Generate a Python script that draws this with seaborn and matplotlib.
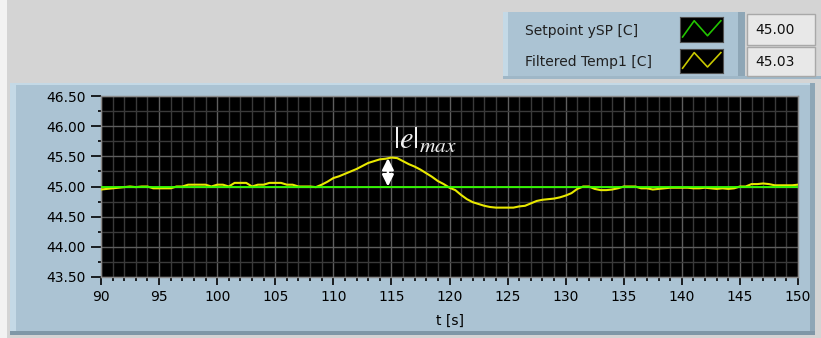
import numpy as np
import pandas as pd
import matplotlib
matplotlib.use("Agg")
import matplotlib.pyplot as plt
from matplotlib.patches import Rectangle
import seaborn as sns

# ---------------- data ----------------
t_start, t_step = 90.0, 0.5
temp1 = [
    44.95, 44.96, 44.97, 44.98, 44.99, 45.00, 44.99, 45.00, 45.00, 44.97,
    44.97, 44.97, 44.97, 45.00, 45.00, 45.03, 45.03, 45.03, 45.03, 45.00,
    45.03, 45.03, 45.00, 45.06, 45.06, 45.06, 45.00, 45.03, 45.03, 45.06,
    45.06, 45.06, 45.03, 45.03, 45.00, 45.00, 45.00, 44.99, 45.03, 45.08,
    45.14, 45.17, 45.21, 45.25, 45.29, 45.34, 45.39, 45.42, 45.45, 45.46,
    45.48, 45.47, 45.42, 45.37, 45.33, 45.28, 45.22, 45.16, 45.09, 45.04,
    44.98, 44.94, 44.86, 44.79, 44.74, 44.71, 44.68, 44.66, 44.65, 44.65,
    44.65, 44.65, 44.67, 44.68, 44.72, 44.76, 44.78, 44.79, 44.80, 44.82,
    44.85, 44.89, 44.96, 45.00, 45.00, 44.96, 44.94, 44.94, 44.95, 44.97,
    45.00, 45.00, 45.00, 44.97, 44.97, 44.95, 44.96, 44.97, 44.98, 44.98,
    44.98, 44.98, 44.97, 44.97, 44.98, 44.97, 44.96, 44.97, 44.96, 44.97,
    45.00, 45.00, 45.04, 45.04, 45.05, 45.04, 45.02, 45.02, 45.02, 45.02,
    45.03,
]
setpoint = 45.00
x_ticks = [90, 95, 100, 105, 110, 115, 120, 125, 130, 135, 140, 145, 150]
y_ticks = [43.50, 44.00, 44.50, 45.00, 45.50, 46.00, 46.50]
x_label = "t [s]"
legend_names = ["Setpoint ySP [C]", "Filtered Temp1 [C]"]
legend_values = ["45.00", "45.03"]
annot_text = r"$|e|_{max}$"
peak_t, peak_v = 114.7, 45.47

t = t_start + t_step * np.arange(len(temp1))
df = pd.DataFrame({"t": t, "Filtered Temp1 [C]": temp1,
                   "Setpoint ySP [C]": [setpoint] * len(temp1)})

# ---------------- figure ----------------
W, H = 821, 338
plt.rcParams["font.family"] = ["DejaVu Sans"]
plt.rcParams["mathtext.fontset"] = "stix"
fig = plt.figure(figsize=(W / 100, H / 100), dpi=100)
fig.patch.set_facecolor("#d4d4d4")


def rect(x0, y0, x1, y1, color, z=0, ec="none", lw=0):
    fig.add_artist(Rectangle((x0 / W, 1 - y1 / H), (x1 - x0) / W, (y1 - y0) / H,
                             transform=fig.transFigure, facecolor=color,
                             edgecolor=ec, linewidth=lw, zorder=z))


def ftext(x, y, s, **kw):
    fig.text(x / W, 1 - y / H, s, **kw)


# panel backgrounds
rect(0, 0, 7, 338, "#f2f2f2")
rect(10, 83, 815, 335, "#abc3d3")
rect(10, 83, 16, 335, "#c4d9e6")
rect(10, 83, 815, 85, "#c4d9e6")
rect(810, 83, 815, 335, "#8ea6b6")
rect(10, 331, 815, 335, "#7f97a7")

# legend panel
rect(503, 12, 745, 78, "#abc3d3")
rect(503, 12, 508, 78, "#c4d9e6")
rect(738, 12, 745, 78, "#8ea6b6")
rect(503, 76, 821, 79, "#9fb7c7")

# value boxes
for (y0, y1), val in zip([(14, 45), (47, 76)], legend_values):
    rect(747, y0, 815, y1, "#e8e8e8", ec="#a8a8a8", lw=1)
    ftext(755, (y0 + y1) / 2, val, fontsize=10, va="center", ha="left", color="#101010")

for yc, name in zip([31, 62], legend_names):
    ftext(525, yc, name, fontsize=10, va="center", ha="left", color="#202020")

# legend swatches
sw_colors = ["#22c400", "#c8c800"]
for (y0, y1), c in zip([(17, 42), (49, 73)], sw_colors):
    sax = fig.add_axes([680 / W, 1 - y1 / H, 43 / W, (y1 - y0) / H])
    sax.set_facecolor("black")
    sax.plot([0.06, 0.33, 0.64, 0.95], [0.2, 0.85, 0.25, 0.85], color=c, lw=1.2)
    sax.set_xlim(0, 1)
    sax.set_ylim(0, 1)
    sax.set_xticks([])
    sax.set_yticks([])
    for sp in sax.spines.values():
        sp.set_color("#505050")

# main plot
ax = fig.add_axes([101 / W, 1 - 277 / H, 697 / W, 181 / H])
ax.set_facecolor("black")
sns.lineplot(data=df, x="t", y="Filtered Temp1 [C]", ax=ax, color="#e8e800",
             lw=1.5, legend=False, zorder=3)
sns.lineplot(data=df, x="t", y="Setpoint ySP [C]", ax=ax, color="#33ff00",
             lw=1.3, legend=False, zorder=4)

ax.set_xlim(x_ticks[0], x_ticks[-1])
ax.set_ylim(y_ticks[0], y_ticks[-1])
ax.set_xticks(x_ticks)
ax.set_xticklabels([str(v) for v in x_ticks])
ax.set_xticks(np.arange(x_ticks[0], x_ticks[-1] + 0.5, 1), minor=True)
ax.set_yticks(y_ticks)
ax.set_yticklabels([f"{v:.2f}" for v in y_ticks])
ax.set_yticks(np.arange(y_ticks[0], y_ticks[-1] + 0.1, 0.25), minor=True)

ax.grid(True, which="minor", color="#3a3a3a", lw=1)
ax.grid(True, which="major", color="#5e5e5e", lw=1)
ax.set_axisbelow(True)

ax.tick_params(axis="both", which="major", labelsize=10, colors="black",
               width=1.2)
ax.tick_params(axis="y", which="major", length=7.2, pad=3.6)
ax.tick_params(axis="y", which="minor", length=2.5, width=1.2, color="black")
ax.tick_params(axis="x", which="major", length=6, pad=3.5)
ax.tick_params(axis="x", which="minor", length=3, width=1.2, color="black")
for sp in ax.spines.values():
    sp.set_color("#8a8a8a")
    sp.set_linewidth(1)

ax.set_xlabel(x_label, fontsize=10, labelpad=7, color="black")
ax.set_ylabel("")

# annotation |e|max with double arrow
ax.annotate("", xy=(peak_t, peak_v), xytext=(peak_t, setpoint),
            arrowprops=dict(arrowstyle="<|-|>", color="white", lw=1.8,
                            mutation_scale=17, shrinkA=0, shrinkB=0), zorder=6)
ax.text(115.1, 45.76, annot_text, color="#f0f0f0", fontsize=22,
        ha="left", va="center", zorder=6)

fig.savefig("out.png", dpi=100, facecolor=fig.get_facecolor())
